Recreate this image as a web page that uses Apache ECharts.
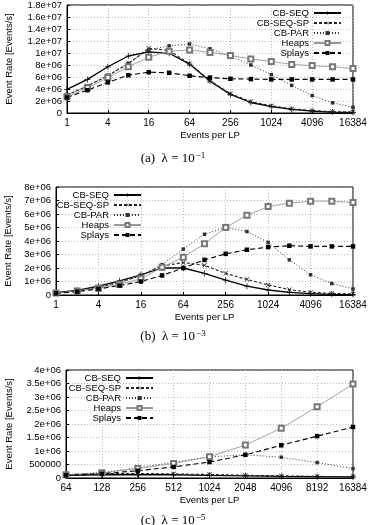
<!DOCTYPE html>
<html>
<head>
<meta charset="utf-8">
<script src="https://cdn.jsdelivr.net/npm/echarts@6/dist/echarts.min.js"></script>
<style>
  html, body { margin: 0; padding: 0; background: #fff; }
  #main { width: 369px; height: 525px; }
</style>
</head>
<body>
<div id="main"></div>
<script>
// x values (events per LP)
const eventsAB = [1, 2, 4, 8, 16, 32, 64, 128, 256, 512, 1024, 2048, 4096, 8192, 16384]
const eventsC = [64, 128, 256, 512, 1024, 2048, 4096, 8192, 16384]

// event rates, in millions of events/s
// (a) lambda = 1e-1
const seqA = [3.95, 5.6, 7.7, 9.5, 10.2, 9.95, 8.15, 5.3, 3.1, 1.75, 1.05, 0.6, 0.3, 0.15, 0.1]
const seqSpA = [3.0, 4.5, 6.2, 8.2, 10.8, 10.4, 8.2, 5.4, 3.2, 1.9, 1.2, 0.7, 0.4, 0.22, 0.15]
const parA = [3.0, 4.5, 6.3, 8.3, 10.5, 11.2, 11.5, 10.7, 9.5, 8.0, 6.4, 4.6, 2.9, 1.7, 0.95]
const heapsA = [2.7, 4.2, 5.9, 7.7, 9.3, 10.3, 10.5, 10.1, 9.6, 9.0, 8.6, 8.1, 7.9, 7.7, 7.4]
const splaysA = [2.6, 3.8, 5.1, 6.3, 6.8, 6.7, 6.2, 5.9, 5.7, 5.65, 5.6, 5.6, 5.6, 5.6, 5.6]
// (b) lambda = 1e-3
const seqB = [0.18, 0.35, 0.65, 1.05, 1.5, 2.0, 2.0, 1.6, 1.1, 0.65, 0.37, 0.2, 0.1, 0.05, 0.03]
const seqSpB = [0.17, 0.35, 0.6, 0.95, 1.45, 2.15, 2.4, 2.2, 1.6, 1.15, 0.75, 0.4, 0.2, 0.12, 0.08]
const parB = [0.15, 0.3, 0.55, 0.9, 1.45, 2.25, 3.4, 4.5, 5.0, 4.7, 3.9, 2.6, 1.5, 0.85, 0.45]
const heapsB = [0.15, 0.3, 0.5, 0.8, 1.2, 2.05, 2.8, 3.8, 5.0, 5.9, 6.55, 6.8, 6.95, 6.95, 6.85]
const splaysB = [0.12, 0.25, 0.45, 0.7, 1.0, 1.45, 2.0, 2.6, 3.05, 3.35, 3.55, 3.65, 3.6, 3.6, 3.6]
// (c) lambda = 1e-5
const seqC = [0.1, 0.12, 0.13, 0.12, 0.1, 0.08, 0.06, 0.05, 0.04]
const seqSpC = [0.12, 0.16, 0.17, 0.15, 0.13, 0.1, 0.08, 0.06, 0.05]
const parC = [0.13, 0.2, 0.38, 0.58, 0.78, 0.86, 0.77, 0.57, 0.35]
const heapsC = [0.12, 0.19, 0.35, 0.54, 0.79, 1.22, 1.84, 2.64, 3.48]
const splaysC = [0.1, 0.16, 0.27, 0.41, 0.59, 0.86, 1.21, 1.55, 1.89]

const names = ['CB-SEQ', 'CB-SEQ-SP', 'CB-PAR', 'Heaps', 'Splays']
const captions = [['a', '−1'], ['b', '−3'], ['c', '−5']]

const M = 1e6
const FONT = 'Liberation Sans'
const plus = 'path://M0,4.4H10V5.6H0Z M4.4,0H5.6V10H4.4Z'

// gnuplot-like number format: 1e+07, 1.5e+06, 500000
function gp(v) {
  if (v === 0) return '0'
  if (v < 1e6) return String(Math.round(v))
  return v.toExponential().replace(/e\+(\d)$/, 'e+0$1')
}

const styles = [
  { symbol: plus, symbolSize: 6, lineStyle: { color: '#000', width: 1.3, type: 'solid' }, itemStyle: { color: '#000' } },
  { symbol: plus, symbolSize: 6, symbolRotate: 45, lineStyle: { color: '#222', width: 1.1, type: [3, 2] }, itemStyle: { color: '#222' } },
  { symbol: 'rect', symbolSize: 3.5, lineStyle: { color: '#333', width: 1, type: [1, 2] }, itemStyle: { color: '#333' } },
  { symbol: 'emptyRect', symbolSize: 5, lineStyle: { color: '#999', width: 0.9, type: 'solid' }, itemStyle: { color: '#777', borderWidth: 1 } },
  { symbol: 'rect', symbolSize: 4.5, lineStyle: { color: '#000', width: 1.1, type: [5, 3] }, itemStyle: { color: '#000' } }
]

const grids = [
  { left: 67, right: 16, top: 5, height: 108 },
  { left: 56, right: 16, top: 187, height: 108 },
  { left: 66, right: 16, top: 370, height: 108 }
]
const yMax = [1.8e7, 8e6, 4e6]
const yStep = [2e6, 1e6, 5e5]
const yGap = [53, 43, 52]
const legendPos = [
  { right: 27, top: 8 },
  { right: 227, top: 190 },
  { right: 215, top: 373 }
]
const captionTop = [146, 324, 508]
const dataSets = [
  [eventsAB, [seqA, seqSpA, parA, heapsA, splaysA]],
  [eventsAB, [seqB, seqSpB, parB, heapsB, splaysB]],
  [eventsC, [seqC, seqSpC, parC, heapsC, splaysC]]
]

const option = {
  animation: false,
  backgroundColor: '#fff',
  textStyle: { fontFamily: FONT },
  title: captions.map((c, i) => ({
    text: '{t|(' + c[0] + ')  λ = 10}{s|' + c[1] + '}',
    left: 168,
    textAlign: 'center',
    top: captionTop[i],
    textStyle: {
      fontWeight: 'normal',
      rich: {
        t: { fontFamily: 'Liberation Serif', fontSize: 13, fontWeight: 'normal', color: '#000', lineHeight: 15 },
        s: { fontFamily: 'Liberation Serif', fontSize: 9, fontWeight: 'normal', color: '#000', lineHeight: 15, verticalAlign: 'top', padding: [0, 0, 0, 1] }
      }
    }
  })),
  legend: legendPos.map(p => ({
    data: names,
    orient: 'vertical',
    align: 'right',
    right: p.right,
    top: p.top,
    itemWidth: 27,
    itemHeight: 5,
    itemGap: 0,
    padding: 0,
    selectedMode: false,
    textStyle: { fontFamily: FONT, fontSize: 9.5, lineHeight: 9.5, color: '#000', padding: 0 }
  })),
  grid: grids.map(g => Object.assign({ show: true, borderColor: '#000', borderWidth: 1, outerBoundsMode: 'none', containLabel: false }, g)),
  xAxis: grids.map((g, i) => ({
    gridIndex: i,
    type: 'log',
    logBase: i < 2 ? 4 : 2,
    min: i < 2 ? 1 : 64,
    max: 16384,
    splitNumber: i < 2 ? 7 : 8,
    name: 'Events per LP',
    nameLocation: 'middle',
    nameGap: 17,
    nameTextStyle: { fontFamily: FONT, fontSize: 9.5, color: '#000' },
    axisLine: { lineStyle: { color: '#000', width: 1 } },
    axisTick: { inside: true, length: 3, lineStyle: { color: '#000' } },
    minorTick: { show: false },
    axisLabel: { fontFamily: FONT, fontSize: 10, color: '#000', margin: 5, formatter: v => String(Math.round(v)) },
    splitLine: { show: true, lineStyle: { color: '#aaa', type: [1, 2], width: 0.8 } }
  })),
  yAxis: grids.map((g, i) => ({
    gridIndex: i,
    type: 'value',
    min: 0,
    max: yMax[i],
    interval: yStep[i],
    name: 'Event Rate [Events/s]',
    nameLocation: 'middle',
    nameGap: yGap[i],
    nameTextStyle: { fontFamily: FONT, fontSize: 9.5, color: '#000' },
    axisLine: { show: true, lineStyle: { color: '#000', width: 1 } },
    axisTick: { show: true, inside: true, length: 3, lineStyle: { color: '#000' } },
    axisLabel: { fontFamily: FONT, fontSize: 9.5, color: '#000', margin: 5, formatter: gp },
    splitLine: { show: true, lineStyle: { color: '#aaa', type: [1, 2], width: 0.8 } }
  })),
  series: []
}

dataSets.forEach(([xs, sets], gi) => {
  sets.forEach((vals, si) => {
    option.series.push(Object.assign({
      name: names[si],
      type: 'line',
      xAxisIndex: gi,
      yAxisIndex: gi,
      showAllSymbol: true,
      data: xs.map((x, k) => [x, vals[k] * M])
    }, styles[si]))
  })
})

const chart = echarts.init(document.getElementById('main'))
chart.setOption(option)
</script>
</body>
</html>
